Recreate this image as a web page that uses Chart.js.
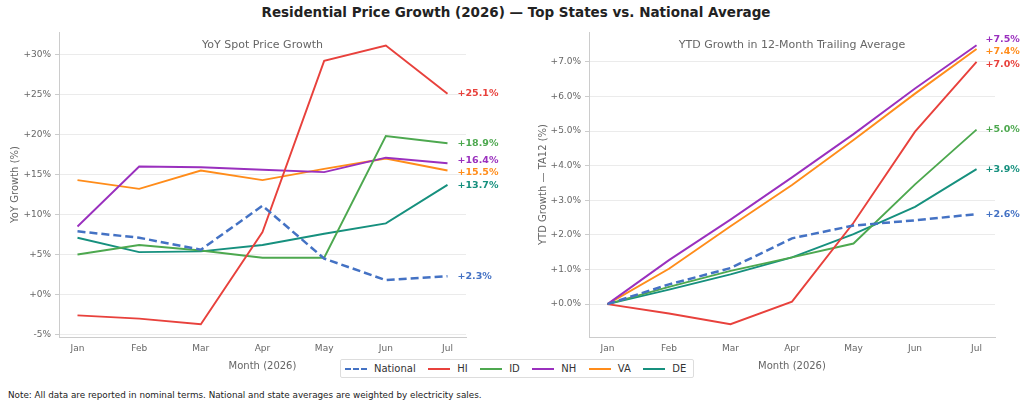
<!DOCTYPE html>
<html>
<head>
<meta charset="utf-8">
<script src="https://cdn.jsdelivr.net/npm/chart.js@4"></script>
<style>
  body { margin: 0; background: #fff; font-family: "DejaVu Sans", sans-serif; }
  #wrap { position: relative; width: 1024px; height: 409px; overflow: hidden; }
  #title { position: absolute; top: 4px; left: 4px; width: 1024px; text-align: center;
           font-size: 13.5px; font-weight: bold; color: #222; }
  .cv { position: absolute; top: 0; }
  #legend { position: absolute; left: 340px; top: 359px; height: 17px; border: 1px solid #ddd;
            border-radius: 2px; display: flex; align-items: center; padding: 0 7px 0 4px;
            font-size: 10px; color: #333; background: #fff; }
  .item { display: flex; align-items: center; margin-right: 12.5px; }
  .item:last-child { margin-right: 0; }
  .sw { width: 22px; height: 0; border-top: 2px solid; margin-right: 7px; }
  #note { position: absolute; left: 8px; top: 390px; font-size: 8.8px; color: #222; }
</style>
</head>
<body>
<div id="wrap">
  <div id="title">Residential Price Growth (2026) — Top States vs. National Average</div>
  <canvas id="yoyChart" class="cv" style="left:0"></canvas>
  <canvas id="ytdChart" class="cv" style="left:512px"></canvas>
  <div id="legend"></div>
  <div id="note">Note: All data are reported in nominal terms. National and state averages are weighted by electricity sales.</div>
</div>
<script>
const months = ['Jan', 'Feb', 'Mar', 'Apr', 'May', 'Jun', 'Jul'];
const seriesNames = ['National', 'HI', 'ID', 'NH', 'VA', 'DE'];
const seriesColors = ['#4472C4', '#E8413C', '#4DA84F', '#9A30BE', '#FF8C1A', '#16907E'];

// YoY spot price growth (%)
const yoyNational = [7.9, 7.1, 5.6, 11.1, 4.5, 1.8, 2.3];
const yoyHI = [-2.6, -3.0, -3.7, 7.8, 29.2, 31.1, 25.1];
const yoyID = [5.0, 6.2, 5.5, 4.6, 4.6, 19.8, 18.9];
const yoyNH = [8.5, 16.0, 15.9, 15.6, 15.3, 17.1, 16.4];
const yoyVA = [14.3, 13.2, 15.5, 14.3, 15.7, 17.0, 15.5];
const yoyDE = [7.1, 5.3, 5.4, 6.2, 7.6, 8.9, 13.7];

// YTD growth in 12-month trailing average (%)
const ytdNational = [0, 0.57, 1.04, 1.9, 2.27, 2.42, 2.6];
const ytdHI = [0, -0.27, -0.58, 0.07, 2.35, 4.98, 7.0];
const ytdID = [0, 0.5, 0.96, 1.35, 1.75, 3.46, 5.04];
const ytdNH = [0, 1.27, 2.44, 3.66, 4.91, 6.23, 7.48];
const ytdVA = [0, 1.02, 2.25, 3.44, 4.74, 6.08, 7.37];
const ytdDE = [0, 0.42, 0.86, 1.35, 2.02, 2.81, 3.9];

const yoyTicks = [-5, 0, 5, 10, 15, 20, 25, 30];
const ytdTicks = [0, 1, 2, 3, 4, 5, 6, 7];

const yoySeries = [yoyNational, yoyHI, yoyID, yoyNH, yoyVA, yoyDE];
const ytdSeries = [ytdNational, ytdHI, ytdID, ytdNH, ytdVA, ytdDE];

const FONT = '"DejaVu Sans", sans-serif';
const GREY = '#666';

function fmt(v, dec) {
    return (v >= 0 ? '+' : '') + v.toFixed(dec) + '%';
}

function makeDatasets(series) {
    return series.map((vals, i) => ({
        label: seriesNames[i],
        data: vals.map((v, j) => ({x: j, y: v})),
        borderColor: seriesColors[i],
        backgroundColor: seriesColors[i],
        borderWidth: i === 0 ? 2.5 : 1.9,
        borderDash: i === 0 ? [8, 4] : [],
        pointRadius: 0,
        tension: 0,
        fill: false
    }));
}

// subplot title + end-of-line value labels
const annotPlugin = {
    id: 'annot',
    afterDatasetsDraw(chart, args, opts) {
        const ctx = chart.ctx;
        const area = chart.chartArea;
        ctx.save();
        ctx.font = '11px ' + FONT;
        ctx.fillStyle = GREY;
        ctx.textAlign = 'center';
        ctx.textBaseline = 'middle';
        ctx.fillText(opts.title, (area.left + area.right) / 2, area.top + 13);

        // label positions, pushed apart where they overlap
        const labs = chart.data.datasets.map((ds, i) => {
            const meta = chart.getDatasetMeta(i);
            const pt = meta.data[meta.data.length - 1];
            const v = ds.data[ds.data.length - 1].y;
            return {x: pt.x, y: pt.y, text: fmt(v, 1), color: seriesColors[i]};
        }).sort((a, b) => a.y - b.y);
        const gap = 12.4;
        for (let k = 0; k < 200; k++) {
            for (let i = 1; i < labs.length; i++) {
                const d = labs[i].y - labs[i - 1].y;
                if (d < gap) {
                    const s = (gap - d) / 2;
                    labs[i].y += s;
                    labs[i - 1].y -= s;
                }
            }
        }
        ctx.font = 'bold 9.5px ' + FONT;
        ctx.textAlign = 'left';
        labs.forEach(l => {
            ctx.fillStyle = l.color;
            ctx.fillText(l.text, l.x + opts.dx, l.y);
        });
        ctx.restore();
    }
};

function renderChart(id, series, opts) {
    const cv = document.getElementById(id);
    cv.width = 512; cv.height = 372;
    cv.style.width = '512px'; cv.style.height = '372px';
    return new Chart(cv.getContext('2d'), {
        type: 'line',
        data: {datasets: makeDatasets(series)},
        options: {
            responsive: false,
            animation: false,
            devicePixelRatio: 1,
            layout: {padding: opts.padding},
            plugins: {
                legend: {display: false},
                tooltip: {enabled: false},
                annot: {title: opts.title, dx: opts.dx}
            },
            scales: {
                x: {
                    type: 'linear',
                    min: -0.3, max: 6.3,
                    afterBuildTicks: s => { s.ticks = months.map((m, i) => ({value: i})); },
                    afterFit: s => { s.height = 35; },
                    ticks: {
                        callback: v => months[v],
                        color: GREY, font: {family: FONT, size: 9}, padding: 2,
                        maxRotation: 0
                    },
                    grid: {display: false, drawTicks: true, tickLength: 4, tickColor: '#ccc'},
                    border: {color: '#ccc'},
                    title: {display: true, text: 'Month (2026)', color: GREY,
                            font: {family: FONT, size: 10}, padding: {top: 2, bottom: 0}}
                },
                y: {
                    min: opts.ymin, max: opts.ymax,
                    afterBuildTicks: s => { s.ticks = opts.ticks.map(v => ({value: v})); },
                    afterFit: s => { s.width = opts.yw; },
                    ticks: {
                        callback: v => fmt(v, opts.tickDec),
                        color: GREY, font: {family: FONT, size: 9}, padding: 4
                    },
                    grid: {color: '#ebebeb', lineWidth: 1, tickLength: 4, tickColor: '#ccc'},
                    border: {color: '#ccc'},
                    title: {display: true, text: opts.ytitle, color: GREY,
                            font: {family: FONT, size: 10}, padding: {top: 0, bottom: 4}}
                }
            }
        },
        plugins: [annotPlugin]
    });
}

renderChart('yoyChart', yoySeries, {
    title: 'YoY Spot Price Growth', ytitle: 'YoY Growth (%)',
    ymin: -5.3, ymax: 32.8, ticks: yoyTicks, tickDec: 0, dx: 10, yw: 50,
    padding: {top: 32, left: 9, right: 46, bottom: 0}
});
renderChart('ytdChart', ytdSeries, {
    title: 'YTD Growth in 12-Month Trailing Average', ytitle: 'YTD Growth — TA12 (%)',
    ymin: -0.95, ymax: 7.86, ticks: ytdTicks, tickDec: 1, dx: 9, yw: 52,
    padding: {top: 32, left: 25, right: 29, bottom: 0}
});

// legend
const legend = document.getElementById('legend');
seriesNames.forEach((name, i) => {
    const it = document.createElement('div');
    it.className = 'item';
    const sw = document.createElement('span');
    sw.className = 'sw';
    sw.style.borderTopColor = seriesColors[i];
    if (i === 0) sw.style.borderTopStyle = 'dashed';
    it.appendChild(sw);
    it.appendChild(document.createTextNode(name));
    legend.appendChild(it);
});
</script>
</body>
</html>
